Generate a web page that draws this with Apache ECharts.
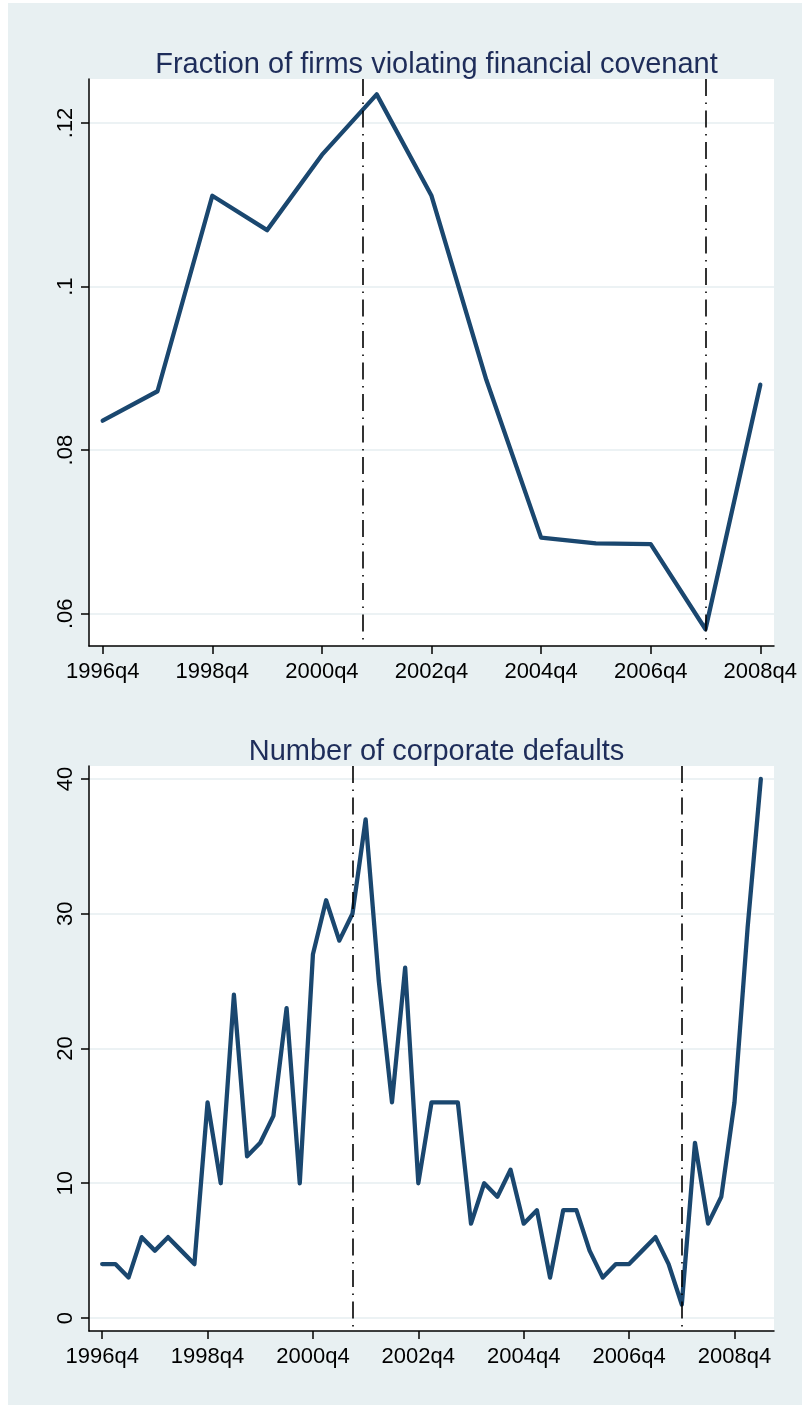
<!DOCTYPE html>
<html>
<head>
<meta charset="utf-8">
<script src="https://cdn.jsdelivr.net/npm/echarts@6/dist/echarts.min.js"></script>
<style>
  html, body { margin: 0; padding: 0; background: #ffffff; }
  #bg { position: absolute; left: 8px; top: 3px; width: 794px; height: 1402px; background: #e8f0f2; }
  #chart { position: absolute; left: 0; top: 0; width: 802px; height: 1405px; }
</style>
</head>
<body>
<div id="bg"></div>
<div id="chart"></div>
<script>
// Quarters are counted from 1996q4 (= 0).
const xTickQuarters = [0, 8, 16, 24, 32, 40, 48];
const xTickLabels = ['1996q4', '1998q4', '2000q4', '2002q4', '2004q4', '2006q4', '2008q4'];

// Reference lines: 2001q3 and 2007q4
const recessionQuarters = [19, 44];

// Panel 1: fraction of firms violating a financial covenant, Q4 of each year 1996-2008
const violationQuarters = [0, 4, 8, 12, 16, 20, 24, 28, 32, 36, 40, 44, 48];
const violationShare = [0.0836, 0.0872, 0.1111, 0.1069, 0.1161, 0.1235, 0.1111,
                        0.0886, 0.0693, 0.0686, 0.0685, 0.0581, 0.0880];
const violationTicks = [0.06, 0.08, 0.1, 0.12];
const violationTickLabels = ['.06', '.08', '.1', '.12'];

// Panel 2: number of corporate defaults per quarter, 1996q4-2009q2
const defaultCounts = [4, 4, 3, 6, 5, 6, 5, 4, 16, 10,
                       24, 12, 13, 15, 23, 10, 27, 31, 28, 30,
                       37, 25, 16, 26, 10, 16, 16, 16, 7, 10,
                       9, 11, 7, 8, 3, 8, 8, 5, 3, 4,
                       4, 5, 6, 4, 1, 13, 7, 9, 16, 29,
                       40];
const defaultTicks = [0, 10, 20, 30, 40];
const defaultTickLabels = ['0', '10', '20', '30', '40'];

const FONT = '"Liberation Sans", Arial, sans-serif';
const NAVY = '#1a476f';
const TITLE_COLOR = '#1e2d5a';

function lookup(values, labels) {
  return function (v) {
    for (let i = 0; i < values.length; i++) {
      if (Math.abs(values[i] - v) < 1e-9) return labels[i];
    }
    return '';
  };
}

function xAxis(gridIndex, max) {
  return {
    type: 'value', gridIndex: gridIndex, min: -1, max: max,
    axisLine: { show: true, onZero: false, lineStyle: { color: '#000', width: 1.5 } },
    axisTick: { show: true, length: 8, customValues: xTickQuarters, lineStyle: { color: '#000', width: 1.5 } },
    axisLabel: {
      customValues: xTickQuarters, formatter: lookup(xTickQuarters, xTickLabels),
      fontSize: 22, fontFamily: FONT, color: '#000', margin: 15, showMinLabel: true, showMaxLabel: true
    },
    splitLine: { show: false }
  };
}

function yAxis(gridIndex, min, max, ticks, labels) {
  return {
    type: 'value', gridIndex: gridIndex, min: min, max: max,
    axisLine: { show: true, onZero: false, lineStyle: { color: '#000', width: 1.5 } },
    axisTick: { show: true, length: 8, customValues: ticks, lineStyle: { color: '#000', width: 1.5 } },
    axisLabel: {
      customValues: ticks, formatter: lookup(ticks, labels), rotate: 90,
      fontSize: 22, fontFamily: FONT, color: '#000', margin: 12
    },
    splitLine: { show: true, lineStyle: { color: '#e6eef1', width: 1.5 } }
  };
}

function recessionLines(yMin, yMax) {
  return {
    silent: true, symbol: 'none', animation: false,
    label: { show: false },
    lineStyle: { color: '#000', width: 1.6, type: [17, 6.5, 1.5, 6.5], opacity: 1 },
    emphasis: { disabled: true },
    data: recessionQuarters.map(q => [{ coord: [q, yMax] }, { coord: [q, yMin] }])
  };
}

const vMin = 0.05605, vMax = 0.12538;
const dMin = -0.964, dMax = 40.96;

const option = {
  animation: false,
  backgroundColor: 'transparent',
  title: [
    {
      text: 'Fraction of firms violating financial covenant',
      left: 431.5, top: 45, textAlign: 'center',
      textStyle: { fontSize: 29, fontWeight: 'normal', fontFamily: FONT, color: TITLE_COLOR }
    },
    {
      text: 'Number of corporate defaults',
      left: 431.5, top: 732, textAlign: 'center',
      textStyle: { fontSize: 29, fontWeight: 'normal', fontFamily: FONT, color: TITLE_COLOR }
    }
  ],
  grid: [
    { left: 89, top: 79, width: 685, height: 567, show: true, backgroundColor: '#ffffff', borderWidth: 0 },
    { left: 89, top: 766, width: 685, height: 565, show: true, backgroundColor: '#ffffff', borderWidth: 0 }
  ],
  xAxis: [xAxis(0, 49), xAxis(1, 51)],
  yAxis: [
    yAxis(0, vMin, vMax, violationTicks, violationTickLabels),
    yAxis(1, dMin, dMax, defaultTicks, defaultTickLabels)
  ],
  series: [
    {
      type: 'line', xAxisIndex: 0, yAxisIndex: 0,
      data: violationQuarters.map((q, i) => [q, violationShare[i]]),
      showSymbol: false, symbol: 'none',
      lineStyle: { color: NAVY, width: 4.3, join: 'round', cap: 'round' },
      markLine: recessionLines(vMin, vMax)
    },
    {
      type: 'line', xAxisIndex: 1, yAxisIndex: 1,
      data: defaultCounts.map((v, i) => [i, v]),
      showSymbol: false, symbol: 'none',
      lineStyle: { color: NAVY, width: 4.3, join: 'round', cap: 'round' },
      markLine: recessionLines(dMin, dMax)
    }
  ]
};

const chart = echarts.init(document.getElementById('chart'), null, { renderer: 'canvas' });
chart.setOption(option);
</script>
</body>
</html>
